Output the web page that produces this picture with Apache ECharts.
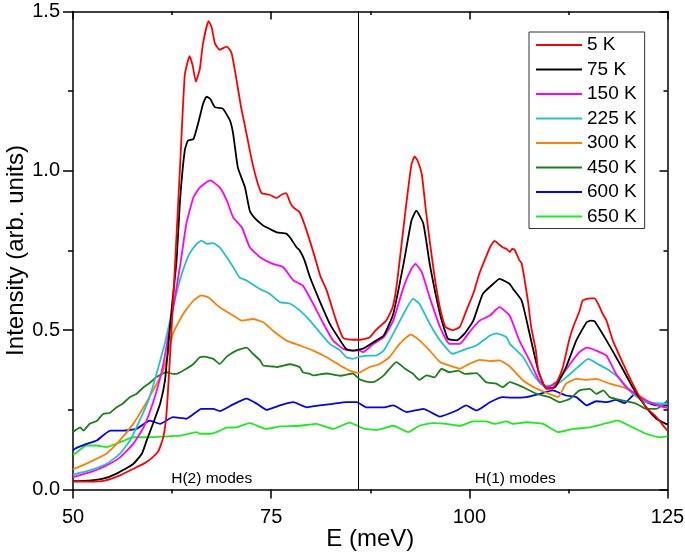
<!DOCTYPE html>
<html>
<head>
<meta charset="utf-8">
<script src="https://cdn.jsdelivr.net/npm/echarts@6/dist/echarts.min.js"></script>
<style>
html,body{margin:0;padding:0;background:#fff;}
#chart{width:685px;height:556px;}
</style>
</head>
<body>
<div id="chart"></div>
<script>
// ---- data ----
const seriesNames = ['5 K','75 K','150 K','225 K','300 K','450 K','600 K','650 K'];
const xTicks = [50, 75, 100, 125];
const yTicks = [0.0, 0.5, 1.0, 1.5];
const dividerE = 86;
const regionLabels = ['H(2) modes', 'H(1) modes'];
const regionLabelPos = [[67.5, 0.033], [105.8, 0.033]];

const red5K = [[50,0.025],[52,0.025],[54,0.028],[56,0.045],[58,0.07],[59,0.082],[60,0.10],[60.8,0.122],[61.4,0.165],[61.8,0.24],[62.2,0.40],[62.6,0.58],[62.9,0.72],[63.5,1.01],[64.1,1.30],[64.7,1.36],[65.1,1.33],[65.5,1.28],[66,1.32],[66.4,1.40],[67.1,1.47],[67.5,1.45],[67.9,1.40],[68.5,1.38],[69.4,1.39],[70,1.37],[70.6,1.29],[71.2,1.20],[71.7,1.14],[72.5,1.04],[73.2,0.97],[73.8,0.93],[74.8,0.925],[75.7,0.915],[76.3,0.925],[76.9,0.93],[77.4,0.90],[77.8,0.885],[78.6,0.87],[79.5,0.81],[80.5,0.73],[81.2,0.67],[82,0.625],[83.2,0.53],[84.1,0.475],[85.3,0.47],[86.2,0.47],[87.4,0.477],[88.2,0.50],[89.5,0.53],[90.3,0.57],[90.8,0.635],[91.5,0.78],[92.1,0.907],[92.7,1.02],[93.1,1.045],[93.5,1.03],[94,0.99],[94.5,0.88],[95,0.78],[95.6,0.67],[96.3,0.57],[97,0.51],[97.9,0.50],[98.8,0.51],[99.6,0.56],[100.5,0.615],[101.3,0.68],[102.1,0.73],[102.7,0.765],[103.2,0.78],[103.7,0.77],[104.2,0.76],[104.7,0.755],[105.1,0.745],[105.4,0.755],[105.7,0.753],[106.3,0.72],[106.6,0.71],[107.4,0.59],[107.8,0.51],[108.4,0.435],[108.7,0.373],[109.7,0.317],[110.5,0.317],[111.1,0.34],[111.8,0.384],[112.6,0.47],[113.1,0.51],[113.9,0.56],[114.3,0.593],[115.2,0.60],[115.8,0.60],[116.3,0.58],[116.85,0.55],[117.3,0.53],[118.1,0.468],[119.4,0.395],[120.6,0.332],[121.5,0.29],[122.3,0.258],[123.6,0.227],[124.8,0.19],[125,0.185]];

const black75K = [[50,0.026],[52,0.028],[53.8,0.034],[55.5,0.05],[57.6,0.08],[58.7,0.113],[59.3,0.154],[60.1,0.207],[61,0.27],[61.6,0.342],[62,0.446],[62.5,0.58],[63.07,0.72],[63.5,0.907],[64.1,1.064],[64.5,1.095],[65.2,1.10],[65.8,1.15],[66.4,1.21],[66.85,1.233],[67.3,1.226],[67.9,1.20],[68.9,1.195],[69.8,1.158],[70.2,1.117],[70.8,1.01],[71.7,0.948],[72.3,0.875],[73,0.85],[74,0.828],[74.4,0.823],[75.7,0.807],[76.9,0.803],[77.4,0.79],[78.2,0.76],[78.6,0.75],[79.2,0.72],[79.9,0.666],[81.1,0.593],[82.4,0.52],[83.7,0.468],[84.5,0.44],[85.3,0.436],[86.6,0.442],[87.9,0.462],[89.2,0.483],[90.4,0.551],[91.7,0.708],[92.7,0.844],[93.3,0.875],[94.2,0.834],[95,0.708],[96.3,0.551],[97.3,0.473],[98.4,0.468],[99.4,0.489],[100.5,0.53],[101.7,0.614],[103,0.645],[103.8,0.661],[105.1,0.645],[105.5,0.63],[106.6,0.593],[107.6,0.489],[108.7,0.373],[109.7,0.317],[110.8,0.321],[112.2,0.384],[113.5,0.468],[114.8,0.525],[115.3,0.53],[115.8,0.528],[117.3,0.468],[119,0.394],[120.6,0.321],[122.3,0.258],[123.6,0.222],[124.8,0.206],[125,0.205]];

const magenta150K = [[50,0.039],[52.1,0.054],[53.8,0.07],[55.9,0.10],[57.6,0.143],[58.9,0.195],[59.9,0.258],[60.8,0.332],[61.4,0.394],[62,0.48],[62.5,0.55],[63.5,0.70],[64.3,0.834],[65.2,0.917],[66,0.948],[67.3,0.97],[68.5,0.948],[69.4,0.907],[70.2,0.854],[71.3,0.823],[72.3,0.76],[73.6,0.729],[75.2,0.708],[76.5,0.698],[77.8,0.656],[79,0.64],[80.3,0.583],[81.6,0.52],[82.8,0.468],[84.1,0.441],[85,0.436],[86.2,0.436],[86.6,0.431],[87.9,0.457],[89.2,0.478],[90.4,0.53],[91.7,0.635],[92.7,0.693],[93.2,0.708],[94,0.682],[95,0.603],[96.3,0.51],[97.5,0.457],[98.8,0.457],[100,0.494],[101.3,0.53],[102.6,0.546],[103.8,0.572],[105.1,0.545],[106.3,0.468],[107.6,0.405],[108.8,0.342],[109.9,0.321],[111.2,0.342],[112.7,0.394],[113.9,0.431],[114.8,0.445],[116,0.436],[117.3,0.42],[118.5,0.363],[119.8,0.321],[121.5,0.29],[123.2,0.269],[124.8,0.258],[125,0.258]];

const cyan225K = [[50,0.047],[52.1,0.06],[54.2,0.08],[55.9,0.112],[57.2,0.154],[58.4,0.216],[59.5,0.279],[60.3,0.342],[61,0.405],[61.6,0.46],[62.6,0.57],[63.3,0.64],[63.9,0.69],[64.7,0.74],[65.6,0.771],[66.2,0.781],[66.9,0.771],[67.7,0.773],[68.5,0.76],[69.4,0.729],[70.2,0.698],[71,0.666],[71.9,0.656],[73.2,0.635],[74,0.624],[74.8,0.614],[76.1,0.588],[77.4,0.583],[78.6,0.562],[79.9,0.53],[81.1,0.494],[82.4,0.457],[83.7,0.436],[84.5,0.415],[85.3,0.41],[86.2,0.417],[87.4,0.42],[88.2,0.42],[89.2,0.436],[90.4,0.489],[91.7,0.551],[92.9,0.598],[93.7,0.583],[95,0.52],[96.3,0.468],[97.9,0.426],[99.6,0.441],[100.9,0.452],[102.6,0.483],[103.4,0.49],[104.7,0.478],[105.1,0.457],[106.8,0.415],[108,0.363],[109.3,0.326],[110.8,0.326],[112.2,0.352],[113.7,0.384],[115,0.41],[116.2,0.394],[117.7,0.373],[119,0.347],[120.6,0.30],[122.3,0.274],[124.8,0.269],[125,0.268]];

const orange300K = [[50,0.063],[52.1,0.086],[54.2,0.112],[55.9,0.154],[57.6,0.206],[58.9,0.258],[60.1,0.311],[61.2,0.363],[62,0.426],[62.6,0.489],[63.9,0.551],[65.2,0.593],[66.2,0.609],[67.05,0.603],[68.5,0.572],[70.2,0.546],[71.3,0.53],[72.7,0.535],[74,0.525],[75.2,0.499],[76.9,0.468],[78.6,0.452],[80.3,0.436],[82,0.415],[83.7,0.389],[84.9,0.373],[86,0.366],[87.4,0.384],[88.7,0.394],[89.9,0.415],[91.2,0.457],[92.6,0.486],[93.7,0.468],[95,0.436],[96.3,0.40],[97.5,0.389],[98.8,0.379],[100,0.394],[101.3,0.407],[102.6,0.403],[103.8,0.405],[105.1,0.386],[106.8,0.342],[108.5,0.316],[110.1,0.30],[111.2,0.29],[112.2,0.332],[113.5,0.347],[114.8,0.344],[116,0.347],[117.7,0.332],[119.4,0.321],[121.1,0.30],[122.7,0.274],[124.8,0.258],[125,0.257]];

const green450K = [[50,0.18],[50.25,0.185],[50.9,0.195],[51.3,0.185],[52.1,0.206],[53,0.215],[53.8,0.237],[54.6,0.24],[55.5,0.258],[56.3,0.27],[57.2,0.29],[58,0.30],[58.9,0.321],[59.7,0.335],[60.5,0.352],[61.8,0.368],[62.6,0.363],[63.1,0.363],[64.3,0.379],[65.2,0.394],[66,0.415],[66.6,0.417],[67.7,0.41],[68.5,0.394],[69.4,0.417],[70.6,0.436],[71.9,0.445],[72.7,0.426],[73.6,0.405],[74,0.389],[75.2,0.386],[75.7,0.384],[77.4,0.393],[78.6,0.384],[79,0.368],[79.9,0.363],[80.3,0.358],[82,0.364],[83.7,0.357],[85.3,0.364],[86.2,0.345],[87.4,0.337],[87.9,0.337],[89.2,0.358],[90.8,0.40],[91.9,0.379],[92.9,0.363],[93.7,0.344],[94.6,0.358],[95.6,0.352],[96.5,0.379],[97.5,0.368],[98.6,0.373],[99.4,0.363],[100.9,0.365],[102.1,0.337],[103.4,0.332],[104.2,0.321],[105.1,0.337],[106.8,0.321],[108.5,0.30],[110.1,0.29],[111.4,0.274],[112.7,0.285],[113.9,0.311],[115.2,0.316],[116,0.30],[116.9,0.311],[117.7,0.29],[119.4,0.279],[121.1,0.269],[122.3,0.253],[123.6,0.253],[124.8,0.274],[125,0.28]];

const blue600K = [[50,0.122],[50.25,0.128],[51.7,0.143],[53,0.154],[54.7,0.185],[56.3,0.185],[58,0.19],[59.7,0.216],[61,0.206],[62.6,0.227],[64.3,0.222],[66.2,0.253],[67.7,0.253],[68.5,0.246],[70.2,0.267],[71.9,0.285],[73.2,0.269],[74.4,0.25],[76.1,0.264],[77.8,0.274],[79.5,0.258],[81.1,0.264],[82.8,0.269],[84.5,0.274],[85.8,0.274],[87,0.258],[88.2,0.258],[89.2,0.258],[90.4,0.264],[92.1,0.243],[94.2,0.253],[96.3,0.229],[98.4,0.248],[99.6,0.264],[100.9,0.248],[102.6,0.274],[104.2,0.29],[105.5,0.288],[107.2,0.29],[108.9,0.30],[110.5,0.311],[112.2,0.295],[113.5,0.29],[114.8,0.264],[116,0.277],[117.3,0.274],[118.5,0.281],[119.6,0.271],[120.8,0.298],[121.9,0.279],[123.6,0.264],[124.8,0.264],[125,0.264]];

const lime650K = [[50,0.11],[50.25,0.112],[51.7,0.138],[53,0.138],[54.2,0.133],[55.9,0.148],[57.6,0.164],[59.3,0.164],[61.4,0.166],[63.5,0.169],[65.6,0.18],[66,0.175],[67.3,0.175],[68.1,0.18],[69.4,0.194],[70.6,0.195],[72.3,0.208],[74.4,0.19],[76.1,0.198],[78.6,0.20],[80.7,0.206],[82.8,0.19],[84.9,0.21],[86.6,0.192],[88.3,0.187],[90.4,0.20],[92.3,0.18],[93.7,0.20],[95.4,0.208],[97.1,0.206],[98.8,0.20],[100.5,0.214],[102.1,0.214],[103.2,0.206],[104.7,0.214],[105.5,0.206],[107.2,0.211],[109.3,0.206],[111.2,0.18],[113.1,0.19],[115.2,0.195],[117.3,0.208],[118.7,0.216],[120.6,0.195],[122.3,0.175],[124,0.164],[124.8,0.166],[125,0.168]];

const seriesData = [red5K, black75K, magenta150K, cyan225K, orange300K, green450K, blue600K, lime650K];
const seriesColors = ['#ff0000','#000000','#ff00ff','#20c4c8','#ff8000','#1a801a','#0000ff','#1aee1a'];

// ---- chart ----
const FONT = '"Liberation Sans", Arial, sans-serif';
const chart = echarts.init(document.getElementById('chart'), null, {renderer: 'canvas'});

const axisCommon = {
  type: 'value',
  splitLine: {show: false},
  axisLine: {show: true, onZero: false, lineStyle: {color: '#000', width: 1.5}},
};

const series = seriesNames.map((name, i) => ({
  name: name,
  type: 'line',
  data: seriesData[i],
  symbol: 'none',
  showSymbol: false,
  smooth: 0.15,
  clip: true,
  lineStyle: {color: seriesColors[i], width: 1.8},
  itemStyle: {color: seriesColors[i]},
  z: 10 - i
}));

series.push({
  name: 'divider',
  type: 'line',
  data: [],
  symbol: 'none',
  markLine: {
    silent: true,
    symbol: ['none','none'],
    label: {show: false},
    lineStyle: {color: '#000', width: 1, type: 'solid'},
    data: [{xAxis: dividerE}]
  }
});

chart.setOption({
  animation: false,
  backgroundColor: '#fff',
  textStyle: {fontFamily: FONT},
  grid: {left: 73, right: 17.5, top: 11.5, bottom: 66.5, containLabel: false, outerBoundsMode: 'none'},
  legend: {
    data: seriesNames,
    orient: 'vertical',
    left: 529,
    top: 32,
    padding: [3, 8, 2, 6],
    itemWidth: 46,
    itemHeight: 14,
    itemGap: 4.5,
    borderColor: '#333',
    borderWidth: 1,
    itemStyle: {opacity: 0},
    textStyle: {fontSize: 19, lineHeight: 20, color: '#000', fontFamily: FONT}
  },
  xAxis: [
    Object.assign({}, axisCommon, {
      min: xTicks[0], max: xTicks[xTicks.length - 1], interval: 25,
      position: 'bottom',
      name: 'E (meV)', nameLocation: 'middle', nameGap: 38, nameMoveOverlap: false,
      nameTextStyle: {fontSize: 24, color: '#000', fontFamily: FONT},
      axisTick: {show: true, inside: false, length: 9, lineStyle: {color: '#000', width: 1.5}},
      minorTick: {show: true, splitNumber: 2, length: 4, lineStyle: {color: '#000', width: 1.5}},
      axisLabel: {fontSize: 20, color: '#000', margin: 18, fontFamily: FONT}
    }),
    Object.assign({}, axisCommon, {
      min: xTicks[0], max: xTicks[xTicks.length - 1], interval: 25,
      position: 'top',
      axisTick: {show: true, inside: true, length: 8, lineStyle: {color: '#000', width: 1.5}},
      minorTick: {show: true, splitNumber: 2, length: 3.5, lineStyle: {color: '#000', width: 1.5}},
      axisLabel: {show: false}
    })
  ],
  yAxis: [
    Object.assign({}, axisCommon, {
      min: yTicks[0], max: yTicks[yTicks.length - 1], interval: 0.5,
      position: 'left',
      name: 'Intensity (arb. units)', nameLocation: 'middle', nameGap: 45, nameMoveOverlap: false,
      nameTextStyle: {fontSize: 24, color: '#000', fontFamily: FONT},
      axisTick: {show: true, inside: false, length: 10, lineStyle: {color: '#000', width: 1.5}},
      minorTick: {show: true, splitNumber: 2, length: 5, lineStyle: {color: '#000', width: 1.5}},
      axisLabel: {fontSize: 20, color: '#000', margin: 13, fontFamily: FONT,
                  formatter: v => v.toFixed(1)}
    }),
    Object.assign({}, axisCommon, {
      min: yTicks[0], max: yTicks[yTicks.length - 1], interval: 0.5,
      position: 'right',
      axisTick: {show: true, inside: true, length: 8, lineStyle: {color: '#000', width: 1.5}},
      minorTick: {show: true, splitNumber: 2, length: 4, lineStyle: {color: '#000', width: 1.5}},
      axisLabel: {show: false}
    })
  ],
  series: series
});

// region labels positioned through the axes
const graphics = regionLabels.map((txt, i) => {
  const p = chart.convertToPixel({xAxisIndex: 0, yAxisIndex: 0}, regionLabelPos[i]);
  return {
    type: 'text',
    x: p[0], y: p[1],
    style: {text: txt, fontSize: 15.5, fontFamily: FONT, fill: '#000',
            align: 'center', verticalAlign: 'middle'},
    z: 100
  };
});
chart.setOption({graphic: graphics});
</script>
</body>
</html>
